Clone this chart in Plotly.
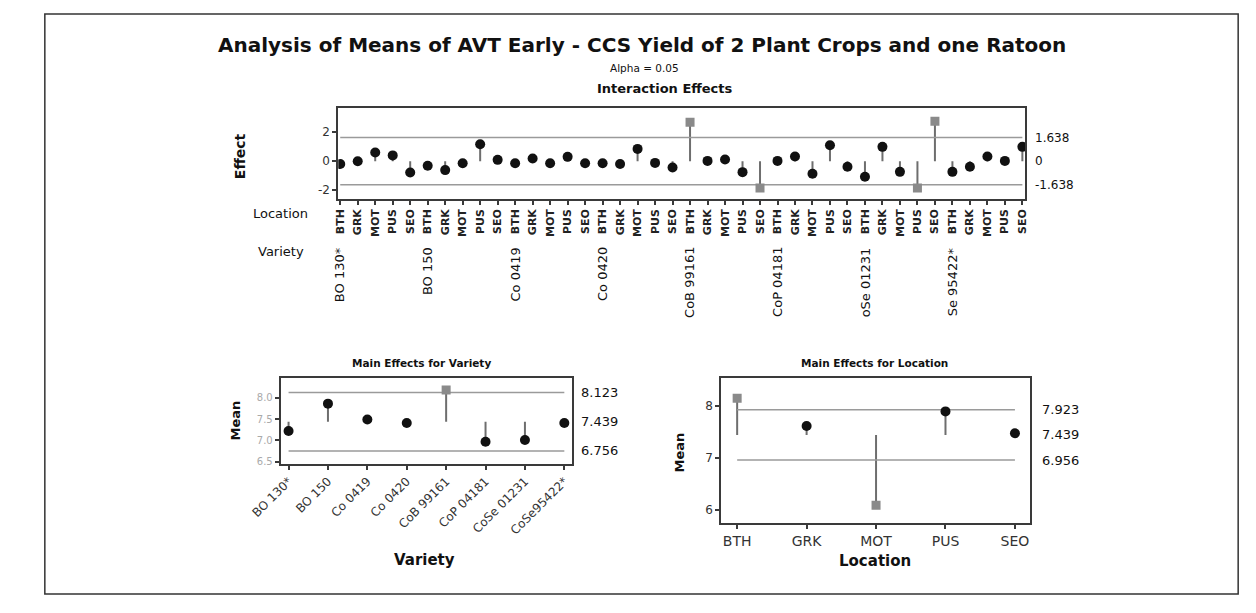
import plotly.graph_objects as go

# page is drawn with the browser's default 8px body margin; figure sized to fit window
OFF = 8
W, H = 1240, 597

# ---------------- data ----------------
varieties_top = ["BO 130*", "BO 150", "Co 0419", "Co 0420", "CoB 99161", "CoP 04181", "oSe 01231", "Se 95422*"]
varieties = ["BO 130*", "BO 150", "Co 0419", "Co 0420", "CoB 99161", "CoP 04181", "CoSe 01231", "CoSe95422*"]
locations = ["BTH", "GRK", "MOT", "PUS", "SEO"]

interaction_effects = [
    -0.20, 0.00, 0.60, 0.40, -0.78,
    -0.32, -0.62, -0.14, 1.17, 0.09,
    -0.14, 0.18, -0.14, 0.30, -0.14,
    -0.14, -0.20, 0.85, -0.12, -0.44,
    2.70, 0.02, 0.12, -0.76, -1.86,
    0.02, 0.32, -0.87, 1.10, -0.39,
    -1.08, 0.99, -0.74, -1.86, 2.76,
    -0.74, -0.39, 0.32, 0.02, 0.99,
]
inter_center, inter_upper, inter_lower = 0.0, 1.638, -1.638

variety_means = [7.22, 7.86, 7.49, 7.41, 8.18, 6.97, 7.01, 7.41]
var_center, var_upper, var_lower = 7.439, 8.123, 6.756

location_means = [8.14, 7.61, 6.09, 7.89, 7.47]
loc_center, loc_upper, loc_lower = 7.439, 7.923, 6.956

# ---------------- helpers ----------------
def px_x(p):
    return (p - OFF) / W

def px_y(p):
    return 1 - (p - OFF) / H

BLACK = "#111111"
GRAY_PT = "#8a8a8a"
STEM = "#6e6e6e"
LIMIT = "#9a9a9a"
FONT = "DejaVu Sans"

fig = go.Figure()

def add_panel(xs, vals, center, upper, lower, xa, ya):
    sx, sy = [], []
    for x, v in zip(xs, vals):
        sx += [x, x, None]
        sy += [center, v, None]
    fig.add_trace(go.Scatter(x=sx, y=sy, mode="lines", line=dict(color=STEM, width=2),
                             xaxis=xa, yaxis=ya, hoverinfo="skip", showlegend=False))
    for lim in (upper, lower):
        fig.add_trace(go.Scatter(x=[xs[0], xs[-1]], y=[lim, lim], mode="lines",
                                 line=dict(color=LIMIT, width=1.5),
                                 xaxis=xa, yaxis=ya, hoverinfo="skip", showlegend=False))
    inx = [x for x, v in zip(xs, vals) if lower <= v <= upper]
    iny = [v for v in vals if lower <= v <= upper]
    outx = [x for x, v in zip(xs, vals) if not (lower <= v <= upper)]
    outy = [v for v in vals if not (lower <= v <= upper)]
    fig.add_trace(go.Scatter(x=inx, y=iny, mode="markers",
                             marker=dict(color=BLACK, size=10, symbol="circle"),
                             xaxis=xa, yaxis=ya, showlegend=False))
    fig.add_trace(go.Scatter(x=outx, y=outy, mode="markers",
                             marker=dict(color=GRAY_PT, size=9, symbol="square"),
                             xaxis=xa, yaxis=ya, showlegend=False))

top_x = list(range(len(interaction_effects)))
add_panel(top_x, interaction_effects, inter_center, inter_upper, inter_lower, "x", "y")
var_x = list(range(len(varieties)))
add_panel(var_x, variety_means, var_center, var_upper, var_lower, "x2", "y2")
loc_x = list(range(len(locations)))
add_panel(loc_x, location_means, loc_center, loc_upper, loc_lower, "x3", "y3")

axis_common = dict(showline=True, linecolor="#3a3a3a", linewidth=2, mirror=True,
                   showgrid=False, zeroline=False, ticks="outside", ticklen=4,
                   tickcolor="#3a3a3a", tickwidth=1.5)

top_ticktext = ["<b>%s</b>" % locations[i % 5] for i in range(40)]

fig.update_layout(
    width=W, height=H, margin=dict(l=0, r=0, t=0, b=0),
    paper_bgcolor="white", plot_bgcolor="white",
    font=dict(family=FONT, color="#222"),
    xaxis=dict(domain=[px_x(316), px_x(1023)], range=[-0.11, 39.17],
               tickvals=top_x, ticktext=top_ticktext, tickangle=-90,
               tickfont=dict(size=11, color="#222"), anchor="y", **axis_common),
    yaxis=dict(domain=[px_y(200), px_y(109)], range=[-2.6, 3.66],
               tickvals=[-2, 0, 2], ticktext=["-2", "0", "2"],
               tickfont=dict(size=12, color="#333"), anchor="x", **axis_common),
    xaxis2=dict(domain=[px_x(256.7), px_x(556.7)], range=[-0.2, 7.2],
                tickvals=var_x, ticktext=varieties, tickangle=-45,
                tickfont=dict(size=12, color="#333"), anchor="y2", **axis_common),
    yaxis2=dict(domain=[px_y(466.7), px_y(380)], range=[6.46, 8.47],
                tickvals=[6.5, 7.0, 7.5, 8.0], ticktext=["6.5", "7.0", "7.5", "8.0"],
                tickfont=dict(size=10, color="#aaaaaa"), anchor="x2", **axis_common),
    xaxis3=dict(domain=[px_x(710), px_x(1028)], range=[-0.23, 4.22],
                tickvals=loc_x, ticktext=locations,
                tickfont=dict(size=14, color="#333"), anchor="y3", **axis_common),
    yaxis3=dict(domain=[px_y(526.7), px_y(380)], range=[5.745, 8.54],
                tickvals=[6, 7, 8], ticktext=["6", "7", "8"],
                tickfont=dict(size=12, color="#333"), anchor="x3", **axis_common),
)

ann = []
def txt(x, y, s, size=11, bold=False, angle=0, xanchor="center", yanchor="middle", color="#111",
        xref="paper", yref="paper"):
    ann.append(dict(x=x, y=y, xref=xref, yref=yref, text=("<b>%s</b>" % s) if bold else s,
                    showarrow=False, textangle=angle, xanchor=xanchor, yanchor=yanchor,
                    font=dict(size=size, color=color, family=FONT)))

txt(px_x(629), px_y(45), "Analysis of Means of AVT Early - CCS Yield of 2 Plant Crops and one Ratoon", size=20, bold=True)
txt(px_x(631), px_y(68), "Alpha = 0.05", size=10.5)
txt(px_x(652), px_y(89), "Interaction Effects", size=13, bold=True)
txt(px_x(215), px_y(157), "Effect", size=14, bold=True, angle=-90)
txt(px_x(257), px_y(215), "Location", size=13)
txt(px_x(257), px_y(253), "Variety", size=13)
for i, v in enumerate(varieties_top):
    txt(i * 5, px_y(247), v, size=13, angle=-90, yanchor="top", xref="x")

for val, lab in [(inter_upper, "1.638"), (inter_center, "0"), (inter_lower, "-1.638")]:
    txt(px_x(1031), val, lab, size=12, xanchor="left", yref="y")
for val, lab in [(var_upper, "8.123"), (var_center, "7.439"), (var_lower, "6.756")]:
    txt(px_x(564), val, lab, size=13, xanchor="left", yref="y2")
for val, lab in [(loc_upper, "7.923"), (loc_center, "7.439"), (loc_lower, "6.956")]:
    txt(px_x(1038), val, lab, size=13, xanchor="left", yref="y3")

txt(px_x(402), px_y(365), "Main Effects for Variety", size=10.5, bold=True)
txt(px_x(868), px_y(365), "Main Effects for Location", size=10.5, bold=True)
txt(px_x(210), px_y(423), "Mean", size=13, bold=True, angle=-90)
txt(px_x(667), px_y(455), "Mean", size=13, bold=True, angle=-90)
txt(px_x(405), px_y(564), "Variety", size=15, bold=True)
txt(px_x(868), px_y(565), "Location", size=15, bold=True)

fig.update_layout(annotations=ann)

fig.add_shape(type="rect", xref="paper", yref="paper",
              x0=px_x(14), x1=px_x(1242), y0=px_y(598), y1=px_y(14),
              line=dict(color="#333", width=1.5))

fig.write_html("out.html")
